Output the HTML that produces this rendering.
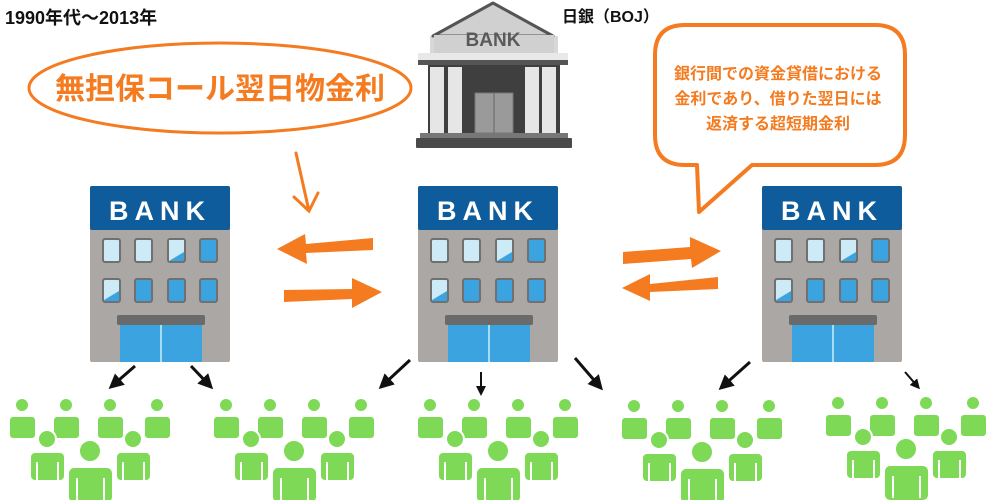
<!DOCTYPE html>
<html><head><meta charset="utf-8"><style>
html,body{margin:0;padding:0;background:#fff;}
svg{display:block;}
text{font-family:"Liberation Sans","Noto Sans CJK JP",sans-serif;font-weight:bold;}
</style></head><body>
<svg width="1000" height="500" viewBox="0 0 1000 500" xmlns="http://www.w3.org/2000/svg">
<defs>
  <g id="bank">
    <rect x="90" y="186" width="140" height="176" rx="2" fill="#aaa7a4"/>
    <rect x="90" y="186" width="140" height="44" rx="2" fill="#0e5c9c"/>
    <text x="160" y="220" font-size="27" fill="#fff" text-anchor="middle" letter-spacing="6" font-family="Liberation Sans,sans-serif">BANK</text>
    <g stroke="#707070" stroke-width="2">
      <rect x="103" y="239" width="17" height="23" rx="2" fill="#cdeaf7"/>
      <rect x="135" y="239" width="17" height="23" rx="2" fill="#cdeaf7"/>
      <rect x="168" y="239" width="17" height="23" rx="2" fill="#3aa3e0"/>
      <rect x="200" y="239" width="17" height="23" rx="2" fill="#3aa3e0"/>
      <rect x="103" y="279" width="17" height="23" rx="2" fill="#cdeaf7"/>
      <rect x="135" y="279" width="17" height="23" rx="2" fill="#3aa3e0"/>
      <rect x="168" y="279" width="17" height="23" rx="2" fill="#3aa3e0"/>
      <rect x="200" y="279" width="17" height="23" rx="2" fill="#3aa3e0"/>
    </g>
    <polygon points="169,240 184,240 184,252 169,261" fill="#cdeaf7"/>
    <polygon points="104,300 119,291 119,301 104,301" fill="#3aa3e0"/>
    <rect x="117" y="315" width="88" height="10" rx="2" fill="#6b6a6a"/>
    <rect x="120" y="325" width="82" height="37" fill="#3aa3e0"/>
    <rect x="160" y="325" width="2" height="37" fill="#a8dcf5"/>
  </g>
  <g id="crowd" fill="#7ed957" stroke="#fff" stroke-width="2">
    <circle cx="22" cy="405" r="7"/><rect x="9" y="416" width="27" height="23" rx="4"/>
    <circle cx="66" cy="405" r="7"/><rect x="53" y="416" width="27" height="23" rx="4"/>
    <circle cx="110" cy="405" r="7"/><rect x="97" y="416" width="27" height="23" rx="4"/>
    <circle cx="157" cy="405" r="7"/><rect x="144" y="416" width="27" height="23" rx="4"/>
    <circle cx="47" cy="439" r="9"/><rect x="30" y="452" width="35" height="29" rx="5"/>
    <circle cx="133" cy="439" r="9"/><rect x="116" y="452" width="35" height="29" rx="5"/>
    <circle cx="90" cy="451" r="11"/><rect x="68" y="467" width="45" height="36" rx="6"/>
    <g stroke="#fff" stroke-width="2">
      <line x1="37" y1="462" x2="37" y2="482"/><line x1="58" y1="462" x2="58" y2="482"/>
      <line x1="123" y1="462" x2="123" y2="482"/><line x1="144" y1="462" x2="144" y2="482"/>
      <line x1="77" y1="478" x2="77" y2="500"/><line x1="104" y1="478" x2="104" y2="500"/>
    </g>
  </g>
  <marker id="bh" markerWidth="5" markerHeight="5" refX="3.5" refY="2.5" orient="auto" markerUnits="strokeWidth">
    <path d="M0,0 L5,2.5 L0,5 Z" fill="#111"/>
  </marker>
</defs>

<text x="5" y="24" font-size="18" fill="#111">1990年代〜2013年</text>
<text x="562" y="22" font-size="16" fill="#111">日銀（BOJ）</text>

<ellipse cx="220" cy="88" rx="191" ry="45" fill="none" stroke="#f47b20" stroke-width="3"/>
<text x="220" y="99" font-size="30" fill="#f47b20" text-anchor="middle">無担保コール翌日物金利</text>

<!-- BOJ -->
<rect x="430" y="36" width="128" height="18" fill="#d8d8d8"/>
<polygon points="493,3 433,36 553,36" fill="#d0d0d0" stroke="#555" stroke-width="3" stroke-linejoin="round"/>
<rect x="434" y="35" width="120" height="19" fill="#d0d0d0"/>
<text x="493" y="46" font-size="19" fill="#5a5a5a" text-anchor="middle">BANK</text>
<rect x="418" y="53" width="150" height="8" fill="#e8e8e8"/>
<rect x="418" y="60" width="150" height="5" fill="#555"/>
<rect x="428" y="65" width="132" height="68" fill="#3f3f3f"/>
<g fill="#e6e6e6"><rect x="430" y="67" width="14" height="66"/><rect x="448" y="67" width="14" height="66"/><rect x="525" y="67" width="14" height="66"/><rect x="542" y="67" width="14" height="66"/></g>
<rect x="475" y="93" width="38" height="40" fill="#9a9a9a" stroke="#777"/>
<line x1="494" y1="93" x2="494" y2="133" stroke="#666"/>
<rect x="420" y="133" width="148" height="6" fill="#777"/>
<rect x="416" y="138" width="156" height="10" rx="1" fill="#4a4a4a"/>

<!-- bubble -->
<path d="M685,25 H875 Q905,25 905,55 V135 Q905,165 875,165 H752 L699,212 L697,165 H685 Q655,165 655,135 V55 Q655,25 685,25 Z" fill="#fff" stroke="#f47b20" stroke-width="4" stroke-linejoin="round"/>
<g font-size="16" fill="#f47b20" text-anchor="middle">
<text x="778" y="79">銀行間での資金貸借における</text>
<text x="778" y="104">金利であり、借りた翌日には</text>
<text x="778" y="129">返済する超短期金利</text>
</g>

<use href="#bank"/>
<use href="#bank" x="328"/>
<use href="#bank" x="672"/>

<!-- thin orange arrow -->
<path d="M296,153 L309,211 M294,197 L309,211 L318,193" fill="none" stroke="#f47b20" stroke-width="3" stroke-linecap="round"/>

<!-- big orange arrows -->
<g fill="#f47b20">
<polygon points="373,238 373,250 306,253 307,264 277,249 305,234 306,244"/>
<polygon points="284,290 284,302 352,299 352,308 382,292 352,278 352,289"/>
<polygon points="623,252 623,264 691,259 692,268 721,251 690,237 690,247"/>
<polygon points="718,277 718,289 650,292 650,301 622,288 650,274 650,284"/>
</g>

<!-- black arrows -->
<g stroke="#111" stroke-width="3" marker-end="url(#bh)">
<line x1="135" y1="366" x2="112" y2="386"/>
<line x1="191" y1="366" x2="210" y2="386"/>
<line x1="410" y1="360" x2="382" y2="386"/>
<line x1="575" y1="358" x2="600" y2="387"/>
<line x1="750" y1="362" x2="722" y2="387"/>
</g>
<g stroke="#111" stroke-width="2" marker-end="url(#bh)">
<line x1="481" y1="372" x2="481" y2="393"/>
<line x1="905" y1="372" x2="918" y2="387"/>
</g>

<use href="#crowd"/>
<use href="#crowd" x="204"/>
<use href="#crowd" x="408"/>
<use href="#crowd" x="612" y="1"/>
<use href="#crowd" x="816" y="-2"/>
</svg>
</body></html>
